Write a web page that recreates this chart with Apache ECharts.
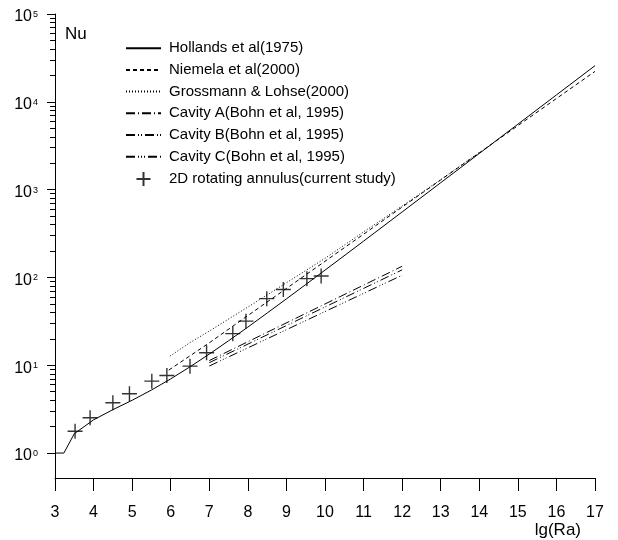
<!DOCTYPE html>
<html>
<head>
<meta charset="utf-8">
<script src="https://cdn.jsdelivr.net/npm/echarts@6/dist/echarts.min.js"></script>
<style>
html,body{margin:0;padding:0;background:#fff;}
#chart{width:618px;height:540px;}
</style>
</head>
<body>
<div id="chart"></div>
<script>
// lg(Ra) positions and Nu values
const hollandsX = [3, 3.23, 3.5, 4, 4.5, 5, 5.5, 6, 6.5, 7, 7.5, 8, 8.5, 9, 9.5, 10, 11, 12, 13, 14, 15, 16, 17];
const hollandsY = [1, 1, 1.66, 2.39, 3.12, 3.99, 5.22, 6.99, 9.6, 13.4, 19.0, 27.2, 39.3, 57.0, 83.0, 121, 259, 557, 1199, 2581, 5559, 11973, 25800];

const niemelaX = [5.95, 7, 8, 9, 10, 11, 12, 13, 14, 15, 16, 17];
const niemelaY = [8.8, 18.0, 36.8, 74.9, 152.6, 310.7, 633, 1289, 2627, 5351, 10900, 22200];

const grossX = [5.98, 6.5, 7, 8, 9, 10, 11, 12, 13, 14];
const grossY = [12.7, 18.1, 24.5, 46, 87, 165, 330, 650, 1300, 2650];

const cavAX = [7, 12];
const cavAY = [11.3, 134];
const cavBX = [7, 12];
const cavBY = [10.7, 122];
const cavCX = [7, 12];
const cavCY = [9.8, 106];

const studyX = [3.52, 3.91, 4.50, 4.93, 5.51, 5.90, 6.50, 6.93, 7.61, 7.95, 8.49, 8.92, 9.53, 9.90];
const studyY = [1.77, 2.52, 3.74, 4.73, 6.59, 7.65, 9.77, 13.9, 22.9, 31.8, 57.3, 73, 96.9, 103.8];

const majorTicks = [1, 10, 100, 1000, 10000, 100000];
const minorTicks = [];
for (let n = 0; n < 5; n++) for (let k = 2; k <= 9; k++) minorTicks.push(k * Math.pow(10, n));

const names = ['Hollands et al(1975)', 'Niemela et al(2000)', 'Grossmann & Lohse(2000)',
  'Cavity A(Bohn et al, 1995)', 'Cavity B(Bohn et al, 1995)', 'Cavity C(Bohn et al, 1995)',
  '2D rotating annulus(current study)'];

const FONT = 'Liberation Sans, Arial, sans-serif';
const zip = (xs, ys) => xs.map((x, i) => [x, ys[i]]);
const CLEAR = 'rgba(0,0,0,0)';

function lineSeries(name, xs, ys, type) {
  return {
    name, type: 'line', data: zip(xs, ys), showSymbol: false, symbol: 'none',
    lineStyle: { color: '#000', width: 1, type: type },
    itemStyle: { color: '#000' },
    silent: true, animation: false
  };
}

const legendData = names.map((n, i) => i < 6
  ? { name: n, itemStyle: { color: CLEAR, borderColor: CLEAR, borderWidth: 0 } }
  : { name: n });

const chart = echarts.init(document.getElementById('chart'), null, { renderer: 'canvas' });
chart.setOption({
  backgroundColor: '#fff',
  animation: false,
  grid: { left: 55, right: 23, top: 14, bottom: 62, containLabel: false },
  legend: {
    orient: 'vertical', left: 125, top: 40.7, padding: 0,
    itemWidth: 35, itemHeight: 14, itemGap: 6.7,
    textStyle: { fontSize: 15, color: '#000', fontFamily: FONT, padding: [0, 0, 0, 3] },
    data: legendData, selectedMode: false
  },
  xAxis: {
    type: 'value', min: 3, max: 17, interval: 1,
    axisLine: { lineStyle: { color: '#000', width: 1 } },
    axisTick: { inside: false, length: 13, lineStyle: { color: '#000', width: 1 } },
    axisLabel: { color: '#000', fontSize: 16, fontFamily: FONT, margin: 27 },
    splitLine: { show: false }
  },
  yAxis: [{
    type: 'log', logBase: 10, min: 0.52, max: 100000,
    axisLine: { show: true, lineStyle: { color: '#000', width: 1 } },
    axisTick: { show: true, length: 8, customValues: majorTicks, lineStyle: { color: '#000', width: 1 } },
    axisLabel: {
      customValues: majorTicks, margin: 17, color: '#000',
      padding: [6, 0, 0, 0],
      formatter: v => '{b|10}{s|' + Math.round(Math.log10(v)) + '}',
      rich: {
        b: { fontSize: 16, lineHeight: 16, fontFamily: FONT, color: '#000' },
        s: { fontSize: 9, lineHeight: 9, fontFamily: FONT, color: '#000', verticalAlign: 'top', padding: [1, 0, 0, 1] }
      }
    },
    splitLine: { show: false }
  }, {
    type: 'log', logBase: 10, min: 0.52, max: 100000, position: 'left',
    axisLine: { show: false },
    axisTick: { show: true, length: 5, customValues: minorTicks, lineStyle: { color: '#000', width: 1 } },
    axisLabel: { show: false },
    splitLine: { show: false }
  }],
  graphic: [
    { type: 'text', left: 65, top: 26, style: { text: 'Nu', fontSize: 17, fontFamily: FONT, fill: '#000' } },
    { type: 'text', right: 37, top: 522, style: { text: 'lg(Ra)', fontSize: 17, fontFamily: FONT, fill: '#000' } }
  ],
  series: [
    lineSeries(names[0], hollandsX, hollandsY, 'solid'),
    lineSeries(names[1], niemelaX, niemelaY, [4, 3]),
    lineSeries(names[2], grossX, grossY, [1, 2]),
    lineSeries(names[3], cavAX, cavAY, [9, 3, 1, 3]),
    lineSeries(names[4], cavBX, cavBY, [9, 3, 1, 2, 1, 3]),
    lineSeries(names[5], cavCX, cavCY, [9, 3, 1, 2, 1, 2, 1, 3]),
    {
      name: names[6], type: 'scatter', data: zip(studyX, studyY),
      symbol: 'path://M0,6H12M6,0V12', symbolSize: 15,
      itemStyle: { color: CLEAR, borderColor: '#000', borderWidth: 1.4 },
      silent: true, animation: false
    }
  ]
});
</script>
</body>
</html>
